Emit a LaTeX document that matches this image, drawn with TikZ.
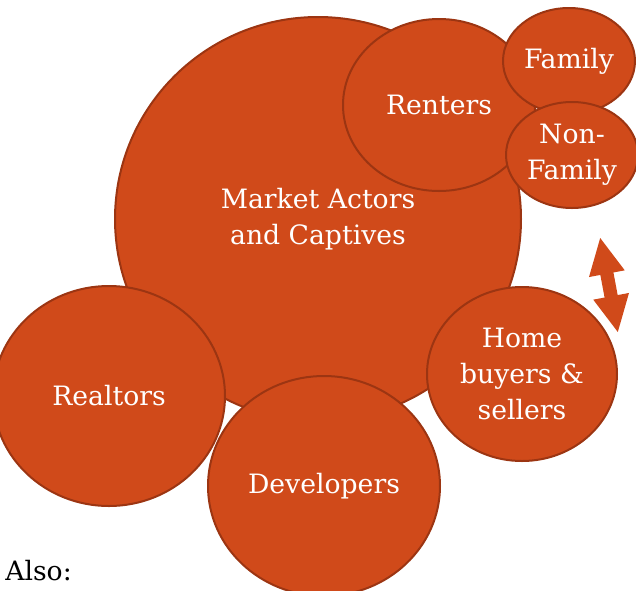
\documentclass[tikz,border=0pt]{standalone}
\usepackage{fontspec}
\setmainfont{DejaVu Serif}
\usetikzlibrary{
  positioning,
  shapes.geometric,
  arrows.meta
}
\definecolor{rust}{HTML}{D04A1A}
\definecolor{rustline}{HTML}{9C3512}

\begin{document}
\begin{tikzpicture}[x=0.75pt, y=-0.75pt, align=center,
  bubble/.style 2 args={draw=rustline, line width=1.5pt, fill=rust, ellipse, inner sep=0pt,
    minimum width=#1*0.75pt, minimum height=#2*0.75pt, text=white,
    font=\fontsize{20}{27}\selectfont},
  swap/.style={draw=rust, line width=10pt,
    {Triangle[length=28pt, width=25pt]}-{Triangle[length=28pt, width=25pt]}}
]
\useasboundingbox (0,0) rectangle (636,590);

% Bubbles
\node[bubble={406}{404}] (market) at (318,219) {Market Actors\\ and Captives};
\node[bubble={192}{172}] (renters) at (439,105) {Renters};
\node[bubble={132}{106}] (family) at (569,61) {Family};
\node[bubble={132}{106}] (nonfamily) at (572,155) {Non-\\ Family};
\node[bubble={190}{174}] (home) at (522,374) {Home\\ buyers \&\\ sellers};
\node[bubble={232}{220}] (realtors) at (109,396) {Realtors};
\node[bubble={232}{220}] (developers) at (324,486) {Developers};

% Arrow
\coordinate (up) at (600,237);
\coordinate (down) at (618,333);
\draw[swap] (up) -- (down);

\node[anchor=base west, inner sep=0pt, font=\fontsize{20}{24}\selectfont] (also) at (5,580) {Also:};

\end{tikzpicture}
\end{document}
